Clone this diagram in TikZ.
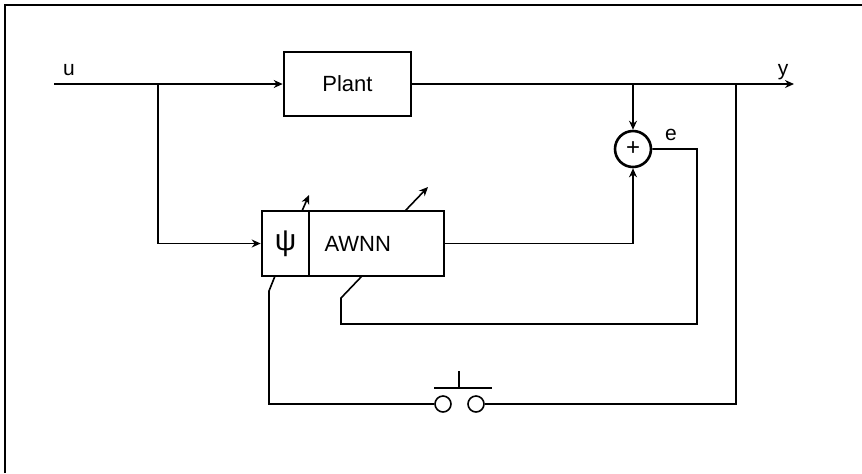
\documentclass[tikz,border=0pt]{standalone}
\usepackage{fontspec}
\setmainfont{Liberation Sans}
\usetikzlibrary{arrows.meta}

\begin{document}
\begin{tikzpicture}[x=0.5pt,y=-0.5pt,
    blk/.style={draw, line width=1.3pt, inner sep=0pt, minimum height=32.5pt, font=\fontsize{11}{13}\selectfont},
    sig/.style={line width=0.8pt},
    arr/.style={sig, -{Stealth[length=4.5pt,width=4pt]}},
    lbl/.style={inner sep=0pt, font=\fontsize{10.5}{12}\selectfont}]
    \useasboundingbox (0,0) rectangle (862,473);

    % Frame
    \draw[line width=0.9pt] (5,473) -- (5,5) -- (862,5);

    % Blocks
    \node[blk, minimum width=63.5pt, minimum height=32pt] (plant) at (347.5,84) {Plant};
    \node[blk, minimum width=23.5pt, font=\fontsize{15}{17}\selectfont] (psi) at (285.5,243.5) {ψ};
    \node[blk, minimum width=67.5pt, text width=52pt, align=left] (awnn) at (376.5,243.5) {AWNN};
    \node[draw, circle, line width=1.3pt, minimum size=18pt, inner sep=0pt, font=\fontsize{12}{13}\selectfont] (sum) at (633,149) {+};

    % Switch
    \node[draw, circle, sig, minimum size=8pt, inner sep=0pt] (swl) at (443,404) {};
    \node[draw, circle, sig, minimum size=8pt, inner sep=0pt] (swr) at (476,404) {};
    \draw[line width=1.3pt] (434,388) -- (492,388);
    \draw[line width=1.3pt] (459,371) -- (459,388);

    % Points on the lines
    \coordinate (uin) at (54,84);
    \coordinate (ubr) at (158,84);
    \coordinate (sbr) at (633,84);
    \coordinate (ybr) at (736,84);
    \coordinate (yout) at (794,84);
    \coordinate (ecor) at (697,324);
    \coordinate (eknee) at (341,298);
    \coordinate (awnnfoot) at (362,276);
    \coordinate (psiknee) at (269,291);
    \coordinate (psifoot) at (275,276);

    % Signals
    \draw[arr] (uin) -- (plant);
    \draw[arr] (plant) -- (yout);
    \draw[arr] (ubr) |- (psi);
    \draw[arr] (sbr) -- (sum);
    \draw[arr] (awnn) -| (sum);
    \draw[sig] (sum) -| (ecor) -| (eknee) -- (awnnfoot);
    \draw[sig] (ybr) |- (swr);
    \draw[sig] (swl) -| (psiknee) -- (psifoot);

    % Adaptation arrows
    \draw[arr] (302,211) -- (309,195);
    \draw[arr] (405,211) -- (428,187);

    % Labels
    \node[lbl] (ulbl) at (69,70) {u};
    \node[lbl] (ylbl) at (783,72) {y};
    \node[lbl] (elbl) at (671,135) {e};
\end{tikzpicture}
\end{document}
